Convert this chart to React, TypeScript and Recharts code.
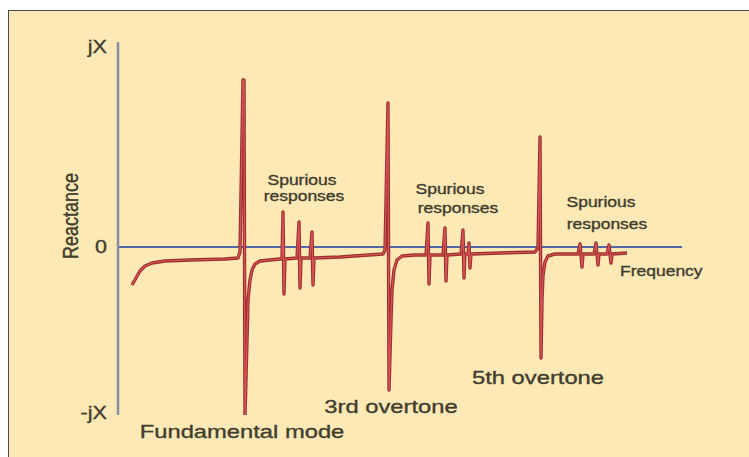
import React from 'react'
import { LineChart, Line, XAxis, YAxis, ReferenceLine, ReferenceDot } from 'recharts'

// frequency (arbitrary units along the horizontal axis) and reactance (arbitrary units, 0 = axis)
const frequency = [
  14, 18, 22, 27, 34, 47, 72, 107, 120, 122, 125, 126, 127, 129, 130, 132, 134, 137, 142, 152, 162,
  164, 165, 166, 167, 179, 181, 182, 183, 192, 194, 195, 196, 222, 265, 267, 270, 271, 273, 274, 276,
  279, 284, 297, 308, 310, 311, 312, 325, 327, 328, 329, 343, 345, 346, 347, 350, 351, 352, 353, 382,
  417, 420, 422, 423, 424, 425, 427, 430, 437, 460, 462, 464, 465, 476, 478, 480, 481, 489, 491, 493,
  494, 509,
]
const reactance = [
  -38, -31, -24, -19, -16, -14, -13, -12, -11, -5, 167, 167, -168, -93, -53, -33, -23, -17, -14, -13, -12,
  -12, 35, -47, -12, -11, 25, -41, -11, -11, 15, -38, -11, -10, -7, -3, 144, -143, -73, -43, -23,
  -13, -9, -8, -8, 24, -37, -8, -8, 19, -34, -8, -7, 17, -31, -7, -7, 4, -21, -7, -6,
  -5, -1, 110, -111, -53, -28, -15, -9, -7, -7, 3, -20, -7, -7, 4, -18, -7, -7, 2, -16,
  -7, -6,
]

const yTicks = [200, 0, -166]
const yTickLabels = ['jX', '0', '-jX']

type Note = { text: string; f: number; x: number; size: number; anchor?: 'start' | 'middle' | 'end'; angle?: number }

const notes: Note[] = [
  { text: 'Fundamental mode', f: 124, x: -185, size: 19 },
  { text: '3rd overtone', f: 273, x: -160, size: 19 },
  { text: '5th overtone', f: 420, x: -131, size: 19 },
  { text: 'Frequency', f: 502, x: -24, size: 14, anchor: 'start' },
  { text: 'Spurious', f: 184, x: 67, size: 14 },
  { text: 'responses', f: 186, x: 51, size: 14 },
  { text: 'Spurious', f: 332, x: 58, size: 14 },
  { text: 'responses', f: 340, x: 39, size: 14 },
  { text: 'Spurious', f: 483, x: 45, size: 14 },
  { text: 'responses', f: 489, x: 23, size: 14 },
  { text: 'Reactance', f: -48, x: 31, size: 18, angle: -90 },
]

const data = frequency.map((f, i) => ({ f, x: reactance[i] }))

const TEXT = '#423d2e'
const FONT = '"Liberation Sans", Arial, sans-serif'

// the original artwork is stretched sideways, so squash text the same way
function stretched(n: Note) {
  return (props: any) => {
    const vb = props.viewBox || {}
    const cx = vb.x + (vb.width || 0) / 2
    const cy = vb.y + (vb.height || 0) / 2
    const t = n.angle
      ? `translate(${cx},${cy}) scale(1.2,1) rotate(${n.angle})`
      : `translate(${cx},${cy}) scale(1.25,1)`
    return (
      <text
        transform={t}
        textAnchor={n.anchor || 'middle'}
        dominantBaseline="central"
        fontSize={n.size}
        fontFamily={FONT}
        fill={TEXT}
        stroke={TEXT}
        strokeWidth={0.35}
      >
        {n.text}
      </text>
    )
  }
}

function YTick(props: any) {
  const { x, y, payload } = props
  const i = yTicks.indexOf(payload.value)
  return (
    <text
      transform={`translate(${x - 3},${y}) scale(1.2,1)`}
      textAnchor="end"
      dominantBaseline="central"
      fontSize={18}
      fontFamily={FONT}
      fill={TEXT}
      stroke={TEXT}
      strokeWidth={0.35}
    >
      {yTickLabels[i]}
    </text>
  )
}

export default function App() {
  return (
    <div style={{ position: 'fixed', left: 0, top: 0, width: 749, height: 457, background: '#fff', overflow: 'hidden' }}>
      <div
        style={{
          position: 'absolute',
          left: 8,
          top: 10,
          width: 760,
          height: 460,
          border: '1.5px solid #4a4a4a',
          background: '#FCE9B6',
        }}
      />
      <div style={{ position: 'absolute', left: 0, top: 0 }}>
        <LineChart width={749} height={457} data={data} margin={{ top: 42, right: 67, bottom: 42, left: 78 }}>
          <XAxis type="number" dataKey="f" domain={[0, 564]} hide />
          <YAxis
            type="number"
            domain={[-168, 205]}
            width={40}
            ticks={yTicks}
            interval={0}
            tick={<YTick />}
            tickLine={false}
            axisLine={{ stroke: '#8390a6', strokeWidth: 2.5 }}
            allowDataOverflow
          />
          <ReferenceLine y={0} stroke="#5068a4" strokeWidth={2} />
          <Line
            type="linear"
            dataKey="x"
            stroke="#9c302c"
            strokeWidth={3.4}
            dot={false}
            isAnimationActive={false}
            strokeLinejoin="round"
          />
          <Line
            type="linear"
            dataKey="x"
            stroke="#d9545a"
            strokeWidth={1.2}
            dot={false}
            isAnimationActive={false}
            strokeLinejoin="round"
          />
          {notes.map((n, i) => (
            <ReferenceDot
              key={i}
              x={n.f}
              y={n.x}
              r={0}
              fill="none"
              stroke="none"
              ifOverflow="visible"
              label={{ content: stretched(n) }}
            />
          ))}
        </LineChart>
      </div>
    </div>
  )
}
